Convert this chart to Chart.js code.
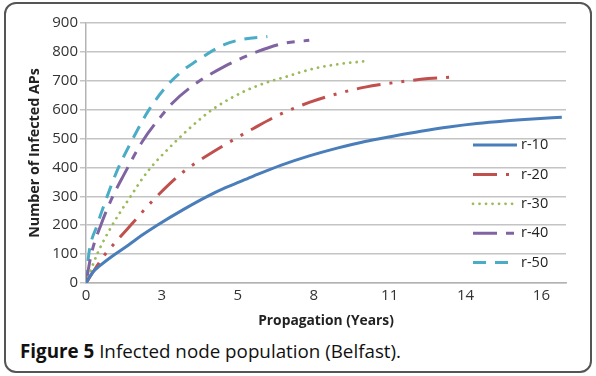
<!DOCTYPE html>
<html>
<head>
<meta charset="utf-8">
<script src="https://cdn.jsdelivr.net/npm/chart.js@4.4.0/dist/chart.umd.min.js"></script>
<style>
  body { margin: 0; background: #fff; width: 596px; height: 376px; overflow: hidden; position: relative; font-family: "Open Sans", sans-serif; }
  #frame { position: absolute; left: 4px; top: 2px; width: 584px; height: 367px; border: 2px solid #555; border-radius: 12px; }
  #chartBox { position: absolute; left: 0; top: 0; width: 596px; height: 336px; }
  #caption { position: absolute; left: 20px; top: 338px; font-size: 18.8px; color: #111; white-space: nowrap; }
</style>
</head>
<body>
<div id="frame"></div>
<div id="chartBox"><canvas id="chart" width="596" height="336"></canvas></div>
<div id="caption"><b>Figure 5</b> Infected node population (Belfast).</div>
<script>
// series (years, infected APs)
const seriesNames = ['r-10', 'r-20', 'r-30', 'r-40', 'r-50'];

const r10Years  = [0, 0.25, 0.5, 1, 1.5, 2, 2.55, 3.5, 4.35, 5, 5.5, 6, 7, 8, 9, 10, 11, 12, 13, 14, 15, 16, 17.05];
const r10Values = [0, 38, 60, 97, 130, 165, 200, 255, 300, 330, 350, 370, 408, 440, 467, 490, 508, 525, 540, 552, 561, 568, 574];

const r20Years  = [0, 0.3, 0.65, 1, 1.6, 2.44, 3.4, 4, 5, 6, 7, 8, 9, 10, 11, 12, 13.2];
const r20Values = [0, 45, 95, 135, 200, 290, 378, 420, 480, 535, 586, 625, 655, 678, 693, 705, 713];

const r30Years  = [0, 0.4, 0.94, 1.6, 2.2, 3.15, 4, 4.6, 5.66, 6.5, 7.1, 8.15, 9, 10.1];
const r30Values = [0, 100, 200, 300, 385, 484, 560, 605, 663, 695, 712, 742, 757, 769];

const r40Years  = [0, 0.19, 0.53, 0.96, 1.36, 2.02, 2.68, 3.1, 3.87, 4.95, 6.14, 7.1, 8.0];
const r40Values = [0, 100, 200, 300, 375, 490, 576, 623, 686, 749, 801, 830, 840];

const r50Years  = [0, 0.1, 0.4, 0.76, 1.12, 1.72, 2.26, 2.92, 3.5, 3.87, 4.95, 5.6, 6.5];
const r50Values = [0, 100, 200, 300, 390, 507, 600, 685, 738, 763, 825, 843, 853];

const xTickValues = [0, 2.72, 5.44, 8.16, 10.88, 13.6, 16.32];
const xTickLabels = ['0', '3', '5', '8', '11', '14', '16'];

const toPoints = (xs, ys) => xs.map((x, i) => ({ x: x, y: ys[i] }));

const lineStyles = [
  { color: '#4a7ebb', dash: [], cap: 'butt', width: 3 },
  { color: '#c0504d', dash: [24, 9, 3, 9, 3, 9], cap: 'butt', width: 3 },
  { color: '#9bbb59', dash: [0.01, 6.5], cap: 'round', width: 2.8 },
  { color: '#8064a2', dash: [24, 9, 8, 9], cap: 'butt', width: 3 },
  { color: '#4bacc6', dash: [13, 9], cap: 'butt', width: 3 }
];

const allPoints = [
  toPoints(r10Years, r10Values),
  toPoints(r20Years, r20Values),
  toPoints(r30Years, r30Values),
  toPoints(r40Years, r40Values),
  toPoints(r50Years, r50Values)
];

const datasets = seriesNames.map((name, i) => ({
  label: name,
  data: allPoints[i],
  borderColor: lineStyles[i].color,
  borderWidth: lineStyles[i].width,
  borderDash: lineStyles[i].dash,
  borderCapStyle: lineStyles[i].cap,
  cubicInterpolationMode: 'monotone',
  pointRadius: 0,
  fill: false
}));

// legend drawn inside the plot, on the right
const insideLegend = {
  id: 'insideLegend',
  afterDatasetsDraw(chart) {
    const ctx = chart.ctx;
    const area = chart.chartArea;
    ctx.save();
    chart.data.datasets.forEach((ds, i) => {
      const y = area.top + 122 + i * 29.4;
      ctx.beginPath();
      ctx.strokeStyle = ds.borderColor;
      ctx.lineWidth = ds.borderWidth;
      ctx.lineCap = ds.borderCapStyle;
      ctx.setLineDash(ds.borderDash);
      ctx.moveTo(area.right - 93, y);
      ctx.lineTo(area.right - 49, y);
      ctx.stroke();
      ctx.setLineDash([]);
      ctx.fillStyle = '#222';
      ctx.font = '14.5px "Open Sans"';
      ctx.textBaseline = 'middle';
      ctx.fillText(ds.label, area.right - 45, y);
    });
    ctx.restore();
  }
};

new Chart(document.getElementById('chart'), {
  type: 'line',
  data: { datasets: datasets },
  options: {
    responsive: false,
    animation: false,
    layout: { padding: { top: 23, right: 30, left: 0, bottom: 0 } },
    plugins: { legend: { display: false }, tooltip: { enabled: false } },
    scales: {
      x: {
        type: 'linear',
        min: 0,
        max: 17.2,
        afterBuildTicks: (scale) => { scale.ticks = xTickValues.map(v => ({ value: v })); },
        afterFit: (scale) => { scale.height = 53; },
        ticks: {
          color: '#333',
          font: { family: 'Open Sans', size: 15 },
          padding: 4,
          maxRotation: 0,
          autoSkip: false,
          callback: (value) => xTickLabels[xTickValues.indexOf(value)]
        },
        grid: { display: false, drawTicks: false },
        border: { display: true, color: '#b3b3b3', width: 1.5 },
        title: {
          display: true,
          text: 'Propagation (Years)',
          color: '#222',
          font: { family: 'Open Sans', size: 13.8, weight: 'bold' },
          padding: { top: 0, bottom: 6.5 }
        }
      },
      y: {
        min: 0,
        max: 900,
        afterFit: (scale) => { scale.width = 86; },
        ticks: {
          stepSize: 100,
          color: '#333',
          font: { family: 'Open Sans', size: 15 },
          padding: 2
        },
        grid: { color: '#c4c4c4', lineWidth: 1.5, tickLength: 6 },
        border: { display: true, color: '#b3b3b3', width: 1.5 },
        title: {
          display: true,
          text: 'Number of Infected APs',
          color: '#222',
          font: { family: 'Open Sans', size: 14.3, weight: 'bold' },
          padding: { top: 26.5, bottom: 0 }
        }
      }
    }
  },
  plugins: [insideLegend]
});
</script>
</body>
</html>
